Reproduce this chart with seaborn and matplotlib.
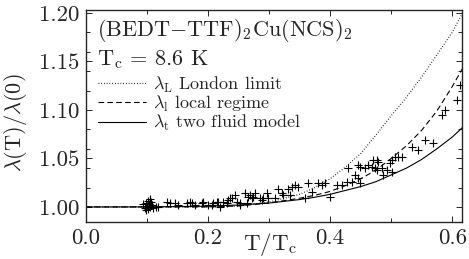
import numpy as np
import pandas as pd
import matplotlib
matplotlib.use("Agg")
import matplotlib.pyplot as plt
from matplotlib.ticker import MultipleLocator, FormatStrFormatter
import seaborn as sns

# model curves
t_curve = [0.0, 0.1, 0.2, 0.25, 0.3, 0.35, 0.375, 0.4, 0.425, 0.45, 0.475, 0.5,
           0.525, 0.55, 0.575, 0.6, 0.617]
london = [1.0, 1.0, 1.0, 1.001, 1.005, 1.013, 1.020, 1.029, 1.041, 1.055, 1.074, 1.094,
          1.113, 1.134, 1.157, 1.180, 1.200]
local = [1.0, 1.0, 1.0, 1.001, 1.004, 1.009, 1.012, 1.016, 1.022, 1.029, 1.038, 1.050,
         1.063, 1.079, 1.099, 1.124, 1.143]
two_fluid = [1.0, 1.0, 1.0008, 1.002, 1.004, 1.0076, 1.010, 1.013, 1.017, 1.021, 1.026, 1.033,
             1.040, 1.049, 1.060, 1.072, 1.082]

# measured points
t_data = [0.093, 0.097, 0.098, 0.100, 0.102, 0.102, 0.103, 0.105, 0.107, 0.108, 0.098, 0.105,
          0.110, 0.115, 0.118,
          0.133, 0.138, 0.146, 0.151, 0.166, 0.170, 0.174, 0.179, 0.190, 0.192, 0.200, 0.207,
          0.208, 0.215, 0.216, 0.220, 0.225, 0.231, 0.233, 0.236, 0.239, 0.244, 0.248, 0.252,
          0.252, 0.261, 0.264, 0.266, 0.269, 0.272, 0.274, 0.277, 0.285, 0.289, 0.290, 0.297,
          0.298, 0.310, 0.315, 0.321, 0.323, 0.331, 0.334, 0.338, 0.343, 0.348, 0.359, 0.364,
          0.370, 0.380, 0.387, 0.392, 0.400, 0.411, 0.420, 0.428, 0.430, 0.436, 0.441, 0.446,
          0.446, 0.449, 0.449, 0.457, 0.462, 0.469, 0.470, 0.474, 0.477, 0.477, 0.479, 0.485,
          0.487, 0.493, 0.498, 0.502, 0.502, 0.507, 0.511, 0.518, 0.534, 0.544, 0.556, 0.569,
          0.584, 0.589, 0.608, 0.613]
lam_data = [1.003, 0.999, 1.004, 1.001, 1.006, 0.998, 1.003, 1.000, 1.005, 1.002, 0.997, 1.008,
            0.999, 1.000, 1.000,
            1.005, 1.004, 1.004, 1.002, 1.004, 1.005, 1.004, 1.002, 1.004, 1.005, 1.002, 1.002,
            1.004, 1.005, 1.005, 1.000, 1.005, 1.004, 1.007, 1.009, 1.009, 1.012, 1.005, 1.004,
            1.002, 1.014, 1.004, 1.010, 1.012, 1.009, 1.010, 1.014, 1.009, 1.007, 1.009, 1.014,
            1.009, 1.009, 1.018, 1.014, 1.012, 1.018, 1.012, 1.021, 1.023, 1.021, 1.009, 1.025,
            1.015, 1.025, 1.023, 1.025, 1.010, 1.023, 1.023, 1.026, 1.040, 1.026, 1.033, 1.030,
            1.043, 1.041, 1.025, 1.040, 1.043, 1.041, 1.048, 1.040, 1.038, 1.048, 1.046, 1.040,
            1.033, 1.038, 1.045, 1.048, 1.036, 1.051, 1.052, 1.052, 1.062, 1.059, 1.069, 1.066,
            1.095, 1.100, 1.110, 1.126]

sns.set_style("ticks")
plt.rcParams["font.family"] = "cmr10"
plt.rcParams["mathtext.fontset"] = "cm"
plt.rcParams["axes.formatter.use_mathtext"] = True
plt.rcParams["axes.unicode_minus"] = False

fig = plt.figure(figsize=(4.69, 2.59), dpi=100)
ax = fig.add_axes([0.183, 0.143, 0.802, 0.818])

curves = pd.DataFrame({"t": t_curve, "london": london, "local": local, "two": two_fluid})
sns.lineplot(data=curves, x="t", y="london", ax=ax, color="k", lw=0.9,
             linestyle=(0, (0.6, 1.6)), label=r"$\lambda_\mathrm{L}$ London limit")
sns.lineplot(data=curves, x="t", y="local", ax=ax, color="k", lw=0.8,
             linestyle=(0, (5, 3)), label=r"$\lambda_\mathrm{l}$ local regime")
sns.lineplot(data=curves, x="t", y="two", ax=ax, color="k", lw=0.8,
             label=r"$\lambda_\mathrm{t}$ two fluid model")
sns.scatterplot(x=t_data, y=lam_data, ax=ax, marker="+", color="k", s=40,
                linewidth=0.8, legend=False, zorder=3)

ax.set_xlim(0, 0.616)
ax.set_ylim(0.9845, 1.203)
ax.xaxis.set_major_locator(MultipleLocator(0.2))
ax.xaxis.set_minor_locator(MultipleLocator(0.1))
ax.yaxis.set_major_locator(MultipleLocator(0.05))
ax.yaxis.set_minor_locator(MultipleLocator(0.02))
ax.xaxis.set_major_formatter(FormatStrFormatter("%.1f"))
ax.yaxis.set_major_formatter(FormatStrFormatter("%.2f"))
ax.tick_params(which="both", direction="in", top=True, right=True, labelsize=16.5,
               width=0.7, pad=5)
ax.tick_params(which="major", length=4)
ax.tick_params(which="minor", length=3)
for s in ax.spines.values():
    s.set_linewidth(1.0)

ax.set_xlabel(r"T/T$_\mathrm{c}$", fontsize=16.5)
ax.xaxis.set_label_coords(0.49, -0.045)
ax.xaxis.label.set_va("top")
ax.set_ylabel(r"$\lambda$(T)/$\lambda$(0)", fontsize=16)
ax.yaxis.set_label_coords(-0.152, 0.47)

ax.text(0.03, 0.905, r"(BEDT$-$TTF)$_2$Cu(NCS)$_2$", transform=ax.transAxes,
        fontsize=16, va="center")
ax.text(0.03, 0.764, r"T$_\mathrm{c}$ = 8.6 K", transform=ax.transAxes,
        fontsize=16, va="center")
ax.legend(loc="upper left", bbox_to_anchor=(0.012, 0.73), frameon=False, fontsize=13,
          handlelength=2.7, handletextpad=0.35, labelspacing=-0.05, borderaxespad=0.2,
          borderpad=0.2)

fig.savefig("out.png", dpi=100)
